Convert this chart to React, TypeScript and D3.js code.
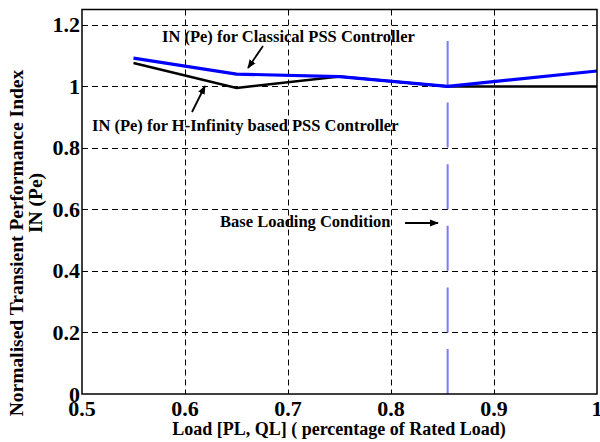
import React, { useEffect, useRef } from "react";
import * as d3 from "d3";

// load points (fraction of rated load)
const loads = [0.55, 0.65, 0.75, 0.855, 1.0];
const classicalPSS = [1.092, 1.04, 1.032, 1.0, 1.05];
const hInfinityPSS = [1.076, 0.995, 1.032, 1.0, 1.0];
const baseLoad = 0.855;
const xTicks = [0.5, 0.6, 0.7, 0.8, 0.9, 1];
const yTicks = [0, 0.2, 0.4, 0.6, 0.8, 1, 1.2];

const App = () => {
  const ref = useRef<SVGSVGElement>(null);

  useEffect(() => {
    const svg = d3.select(ref.current);
    svg.selectAll("*").remove();

    const left = 82, right = 597, top = 9.5, bottom = 394;
    const x = d3.scaleLinear().domain([0.5, 1]).range([left, right]);
    const y = d3.scaleLinear().domain([0, 1.25]).range([bottom, top]);
    const font = "'Liberation Serif', 'Times New Roman', serif";

    // grid
    svg.append("g")
      .selectAll("line")
      .data(xTicks.slice(1, -1))
      .enter()
      .append("line")
      .attr("x1", (d) => Math.round(x(d)) + 0.5)
      .attr("x2", (d) => Math.round(x(d)) + 0.5)
      .attr("y1", top)
      .attr("y2", bottom)
      .attr("stroke", "#000")
      .attr("stroke-dasharray", "6,4");

    svg.append("g")
      .selectAll("line")
      .data(yTicks.slice(1))
      .enter()
      .append("line")
      .attr("x1", left)
      .attr("x2", right)
      .attr("y1", (d) => Math.round(y(d)) + 0.5)
      .attr("y2", (d) => Math.round(y(d)) + 0.5)
      .attr("stroke", "#000")
      .attr("stroke-dasharray", "6,4");

    // base loading marker
    svg.append("line")
      .attr("x1", x(baseLoad))
      .attr("x2", x(baseLoad))
      .attr("y1", y(0))
      .attr("y2", y(1.2))
      .attr("stroke", "#7b7bff")
      .attr("stroke-width", 2)
      .attr("stroke-dasharray", "45,16.6");

    const line = d3
      .line<number>()
      .x((d, i) => x(loads[i]))
      .y((d) => y(d));

    svg.append("path")
      .attr("d", line(hInfinityPSS))
      .attr("fill", "none")
      .attr("stroke", "#000")
      .attr("stroke-width", 2.5);

    svg.append("path")
      .attr("d", line(classicalPSS))
      .attr("fill", "none")
      .attr("stroke", "#0000ff")
      .attr("stroke-width", 3.2);

    // frame
    svg.append("rect")
      .attr("x", left)
      .attr("y", top)
      .attr("width", right - left)
      .attr("height", bottom - top)
      .attr("fill", "none")
      .attr("stroke", "#000")
      .attr("stroke-width", 1.5);

    // tick labels
    svg.append("g")
      .selectAll("text")
      .data(xTicks)
      .enter()
      .append("text")
      .attr("x", (d) => x(d))
      .attr("y", 416)
      .attr("text-anchor", "middle")
      .attr("font-family", font)
      .attr("font-weight", "bold")
      .attr("font-size", 22)
      .text((d) => String(d));

    svg.append("g")
      .selectAll("text")
      .data(yTicks)
      .enter()
      .append("text")
      .attr("x", 80)
      .attr("y", (d) => y(d) + 7.5)
      .attr("text-anchor", "end")
      .attr("font-family", font)
      .attr("font-weight", "bold")
      .attr("font-size", 22)
      .text((d) => String(d));

    // axis titles
    svg.append("text")
      .attr("x", 339)
      .attr("y", 435)
      .attr("text-anchor", "middle")
      .attr("font-family", font)
      .attr("font-weight", "bold")
      .attr("font-size", 18)
      .text("Load [PL, QL] ( percentage of Rated Load)");

    svg.append("text")
      .attr("transform", "translate(23,243) rotate(-90)")
      .attr("text-anchor", "middle")
      .attr("font-family", font)
      .attr("font-weight", "bold")
      .attr("font-size", 19.5)
      .text("Normalised Transient Performance Index");
    svg.append("text")
      .attr("transform", "translate(42,203) rotate(-90)")
      .attr("text-anchor", "middle")
      .attr("font-family", font)
      .attr("font-weight", "bold")
      .attr("font-size", 19.5)
      .text("IN (Pe)");

    // annotations
    const defs = svg.append("defs");
    defs.append("marker")
      .attr("id", "ah")
      .attr("viewBox", "0 0 10 10")
      .attr("refX", 9)
      .attr("refY", 5)
      .attr("markerWidth", 5)
      .attr("markerHeight", 5)
      .attr("orient", "auto")
      .append("path")
      .attr("d", "M0,1 L10,5 L0,9 Z")
      .attr("fill", "#000");

    const notes = [
      { t: "IN (Pe) for Classical PSS Controller", x: 162, y: 42 },
      { t: "IN (Pe) for H-Infinity based PSS Controller", x: 92, y: 131 },
      { t: "Base Loading Condition", x: 220, y: 227 },
    ];
    svg.append("g")
      .selectAll("text")
      .data(notes)
      .enter()
      .append("text")
      .attr("x", (d) => d.x)
      .attr("y", (d) => d.y)
      .attr("font-family", font)
      .attr("font-weight", "bold")
      .attr("font-size", 16.5)
      .text((d) => d.t);

    const arrows = [
      [263, 46, 248, 68],
      [192, 112, 205, 86],
      [405, 223, 438, 223],
    ];
    svg.append("g")
      .selectAll("line")
      .data(arrows)
      .enter()
      .append("line")
      .attr("x1", (d) => d[0])
      .attr("y1", (d) => d[1])
      .attr("x2", (d) => d[2])
      .attr("y2", (d) => d[3])
      .attr("stroke", "#000")
      .attr("stroke-width", 1.8)
      .attr("marker-end", "url(#ah)");
  }, []);

  return (
    <svg
      ref={ref}
      width={600}
      height={442}
      style={{ position: "absolute", left: 0, top: 0, background: "#fff" }}
    ></svg>
  );
};

export default App;
